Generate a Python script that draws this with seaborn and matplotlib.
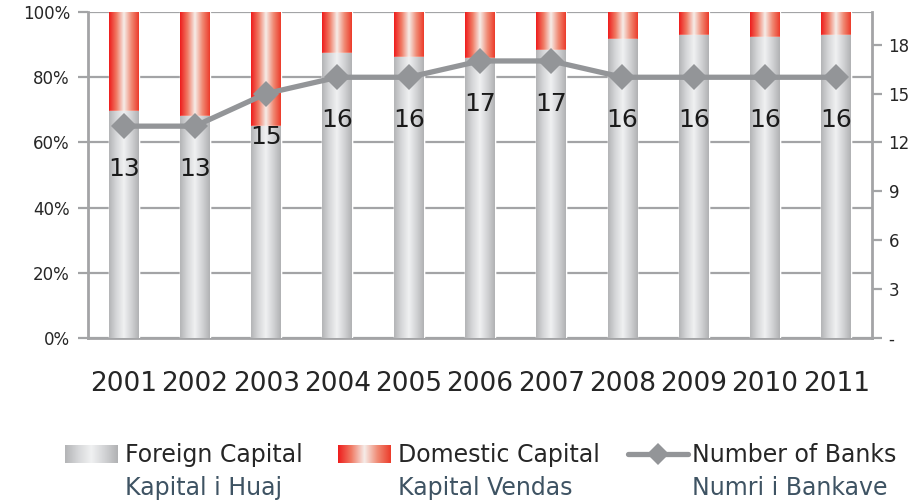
import numpy as np
import pandas as pd
import seaborn as sns
import matplotlib.pyplot as plt
from matplotlib.colors import LinearSegmentedColormap
from matplotlib.lines import Line2D

# data
years = ['2001', '2002', '2003', '2004', '2005', '2006', '2007', '2008', '2009', '2010', '2011']
foreign = [69.5, 68.0, 65.0, 87.4, 86.1, 86.0, 88.4, 91.8, 93.1, 92.4, 93.1]
domestic = [100 - f for f in foreign]
banks = [13, 13, 15, 16, 16, 17, 17, 16, 16, 16, 16]

sns.set_style('white')
plt.rcParams['font.family'] = ['DejaVu Sans']

grey_cmap = LinearSegmentedColormap.from_list('g', ['#b3b4b6', '#d6d7d9', '#f0f1f2', '#d2d3d5', '#b0b1b3'])
red_cmap = LinearSegmentedColormap.from_list('r', ['#ee1c1c', '#f07a64', '#f6ece8', '#f08a74', '#ec3b2a'])
grad = np.linspace(0, 1, 256).reshape(1, -1)

df = pd.DataFrame({'year': years, 'foreign': foreign, 'total': [100] * len(years)})

fig = plt.figure(figsize=(9.13, 5.03), dpi=100)
ax = fig.add_axes([0.0964, 0.328, 0.8586, 0.648])

sns.barplot(data=df, x='year', y='total', color='#ee1c1c', width=0.42, ax=ax, zorder=2)
sns.barplot(data=df, x='year', y='foreign', color='#d0d0d0', width=0.42, ax=ax, zorder=3)

# gradient fill for each bar
n = len(years)
for i, p in enumerate(ax.patches):
    x0, y0 = p.get_x(), p.get_y()
    w, h = p.get_width(), p.get_height()
    cm = red_cmap if i < n else grey_cmap
    im = ax.imshow(grad, cmap=cm, aspect='auto', extent=[x0, x0 + w, y0, y0 + h],
                   zorder=p.get_zorder() + 0.5)
    im.set_clip_path(p)

ax.set_xlim(-0.5, n - 0.5)
ax.set_ylim(0, 100)
ax.set_yticks([0, 20, 40, 60, 80, 100])
ax.set_yticklabels(['0%', '20%', '40%', '60%', '80%', '100%'], fontsize=12)
ax.yaxis.grid(True, color='#a3a4a6', linewidth=1.6, zorder=0)
ax.set_axisbelow(True)
ax.set_xlabel('')
ax.set_ylabel('')
ax.set_xticks(range(n))
ax.set_xticklabels(years, fontsize=19)
ax.set_xticks(np.arange(-0.5, n, 1), minor=True)
ax.tick_params(axis='x', which='major', length=0, pad=24)
ax.tick_params(axis='x', which='minor', length=8, width=1.6, color='#a3a4a6', direction='out')
ax.tick_params(axis='y', length=7, width=1.6, color='#a3a4a6', direction='out', pad=6)
for s in ['left', 'bottom']:
    ax.spines[s].set_color('#a3a4a6')
    ax.spines[s].set_linewidth(2)
ax.spines['top'].set_visible(False)
ax.spines['right'].set_visible(False)

ax2 = ax.twinx()
sns.lineplot(x=np.arange(n), y=banks, ax=ax2, color='#939598', linewidth=3.8,
             marker='D', markersize=13, markeredgewidth=0, zorder=5)
ax2.set_ylim(0, 20)
ax2.set_yticks([0, 3, 6, 9, 12, 15, 18])
ax2.set_yticklabels(['-', '3', '6', '9', '12', '15', '18'], fontsize=12)
ax2.tick_params(axis='y', length=7, width=1.6, color='#a3a4a6', direction='out', pad=5)
for s in ['left', 'top', 'bottom']:
    ax2.spines[s].set_visible(False)
ax2.spines['right'].set_color('#a3a4a6')
ax2.spines['right'].set_linewidth(2)
ax2.set_xlim(-0.5, n - 0.5)

for i, b in enumerate(banks):
    ax2.annotate(str(b), (i, b), xytext=(0, -31), textcoords='offset points',
                 ha='center', va='center', fontsize=18, color='#1a1a1a', zorder=6)

# legend drawn by hand (gradient swatches)
W, H = 913.0, 503.0
def swatch(x, cm):
    a = fig.add_axes([x / W, 1 - 463 / H, 53 / W, 18 / H])
    a.imshow(grad, cmap=cm, aspect='auto')
    a.axis('off')

leg_font = ['Liberation Sans Narrow', 'DejaVu Sans']
swatch(65, grey_cmap)
fig.text(125 / W, 1 - 455 / H, 'Foreign Capital', fontsize=17, va='center', family=leg_font)
fig.text(125 / W, 1 - 488 / H, 'Kapital i Huaj', fontsize=17, va='center', color='#3e5363', family=leg_font)
swatch(338, red_cmap)
fig.text(398 / W, 1 - 455 / H, 'Domestic Capital', fontsize=17, va='center', family=leg_font)
fig.text(398 / W, 1 - 488 / H, 'Kapital Vendas', fontsize=17, va='center', color='#3e5363', family=leg_font)
fig.add_artist(Line2D([628 / W, 688 / W], [1 - 454 / H] * 2, color='#939598', linewidth=3.8,
                      transform=fig.transFigure))
fig.add_artist(Line2D([658 / W], [1 - 454 / H], color='#939598', marker='D', markersize=11,
                      markeredgewidth=0, transform=fig.transFigure))
fig.text(692 / W, 1 - 455 / H, 'Number of Banks', fontsize=17, va='center', family=leg_font)
fig.text(692 / W, 1 - 488 / H, 'Numri i Bankave', fontsize=17, va='center', color='#3e5363', family=leg_font)

fig.savefig('out.png', dpi=100)
